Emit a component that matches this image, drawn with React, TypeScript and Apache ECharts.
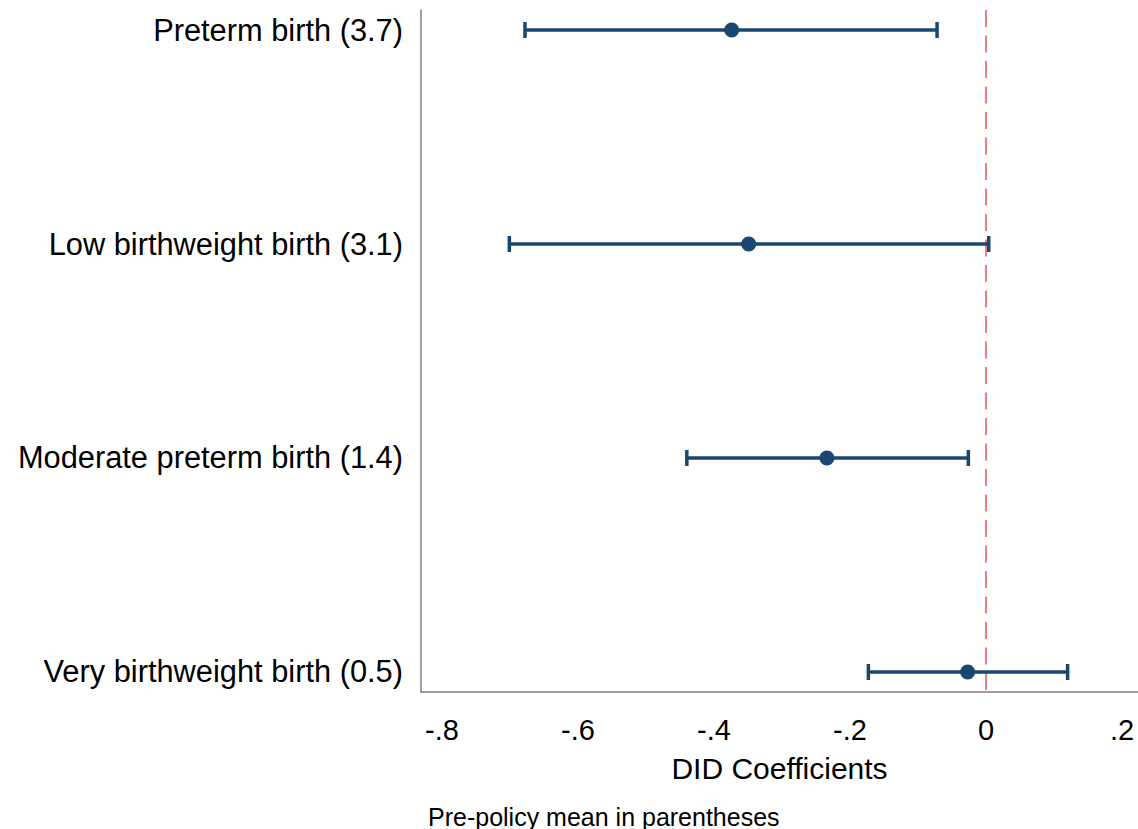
import React, { useEffect, useRef } from "react";
import * as echarts from "echarts";

const categories = [
  "Preterm birth (3.7)",
  "Low birthweight birth (3.1)",
  "Moderate preterm birth (1.4)",
  "Very birthweight birth (0.5)",
];
const estimates = [-0.374, -0.349, -0.234, -0.027];
const lowerCI = [-0.678, -0.701, -0.44, -0.173];
const upperCI = [-0.072, 0.004, -0.026, 0.12];
const tickValues = [-0.8, -0.6, -0.4, -0.2, 0, 0.2];
const tickLabels = ["-.8", "-.6", "-.4", "-.2", "0", ".2"];
const xName = "DID Coefficients";
const footnote = "Pre-policy mean in parentheses";

const NAVY = "#1a476f";
const FONT = "'Liberation Sans', Arial, sans-serif";

export default function App() {
  const ref = useRef<HTMLDivElement>(null);
  useEffect(() => {
    if (!ref.current) return;
    const chart = echarts.init(ref.current, undefined, { renderer: "svg" });
    const yMin = 0.9065;
    const yMax = 4.0935;
    const rows = categories.map((_, i) => [i + 1, lowerCI[i], upperCI[i], estimates[i]]);
    chart.setOption({
      animation: false,
      backgroundColor: "#ffffff",
      grid: { left: 421, right: 0, top: 10, bottom: 137, containLabel: false },
      xAxis: {
        type: "value",
        min: -0.8309,
        max: 0.2235,
        name: xName,
        nameLocation: "middle",
        nameGap: 61,
        nameTextStyle: { fontFamily: FONT, fontSize: 30, color: "#000" },
        axisLine: { show: true, onZero: false, lineStyle: { color: "#808080", width: 1.5 } },
        axisTick: { show: false },
        splitLine: { show: false },
        axisLabel: {
          customValues: tickValues,
          fontFamily: FONT,
          fontSize: 29,
          color: "#000",
          margin: 23,
          formatter: (v: number) => {
            const i = tickValues.findIndex((t) => Math.abs(t - v) < 1e-9);
            return i >= 0 ? tickLabels[i] : "";
          },
        },
      },
      yAxis: {
        type: "value",
        inverse: true,
        min: yMin,
        max: yMax,
        axisLine: { show: true, onZero: false, lineStyle: { color: "#808080", width: 1.5 } },
        axisTick: { show: false },
        splitLine: { show: false },
        axisLabel: {
          customValues: [1, 2, 3, 4],
          fontFamily: FONT,
          fontSize: 30.8,
          color: "#000",
          margin: 18,
          formatter: (v: number) => categories[Math.round(v) - 1] ?? "",
        },
      },
      graphic: [
        {
          type: "text",
          left: 428,
          top: 804,
          style: { text: footnote, fontFamily: FONT, fontSize: 25, fill: "#000" },
        },
      ],
      series: [
        {
          type: "line",
          data: [
            [0, yMin],
            [0, yMax],
          ],
          symbol: "none",
          lineStyle: { color: "#f08080", width: 2, type: [17, 8.5] },
          silent: true,
          z: 1,
        },
        {
          type: "custom",
          z: 2,
          data: rows,
          encode: { x: [1, 2, 3], y: 0 },
          renderItem: (_p: any, api: any) => {
            const y = api.value(0);
            const pL = api.coord([api.value(1), y]);
            const pH = api.coord([api.value(2), y]);
            const pE = api.coord([api.value(3), y]);
            const cap = 8;
            const ls = { stroke: NAVY, lineWidth: 3.5 };
            return {
              type: "group",
              children: [
                { type: "line", shape: { x1: pL[0], y1: pL[1], x2: pH[0], y2: pH[1] }, style: ls },
                { type: "line", shape: { x1: pL[0], y1: pL[1] - cap, x2: pL[0], y2: pL[1] + cap }, style: ls },
                { type: "line", shape: { x1: pH[0], y1: pH[1] - cap, x2: pH[0], y2: pH[1] + cap }, style: ls },
                { type: "circle", shape: { cx: pE[0], cy: pE[1], r: 7.5 }, style: { fill: NAVY } },
              ],
            };
          },
        },
      ],
    });
    return () => chart.dispose();
  }, []);
  return (
    <div
      ref={ref}
      style={{ position: "absolute", left: 0, top: 0, width: 1138, height: 829 }}
    />
  );
}
